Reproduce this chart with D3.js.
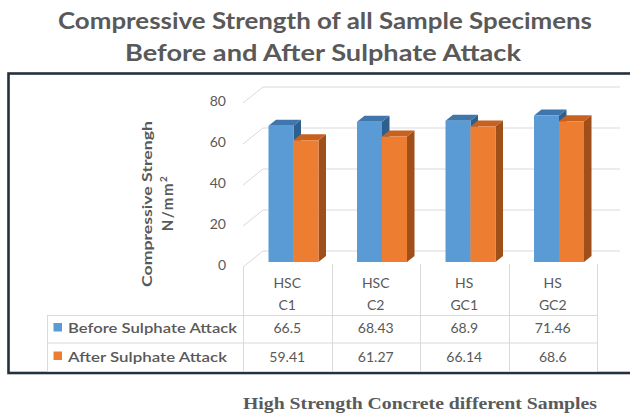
<!DOCTYPE html>
<html>
<head>
<meta charset="utf-8">
<script src="https://cdn.jsdelivr.net/npm/d3@7/dist/d3.min.js"></script>
<style>
  html, body { margin: 0; padding: 0; background: #fff; }
  svg { display: block; font-family: Lato, "Open Sans", sans-serif; }
</style>
</head>
<body>
<svg id="chart" width="630" height="417"></svg>
<script>
// Sample groups (two-line labels), series and values in N/mm²
const categories = ["HSC\nC1", "HSC\nC2", "HS\nGC1", "HS\nGC2"];
const seriesNames = ["Before Sulphate Attack", "After Sulphate Attack"];
const beforeValues = [66.5, 68.43, 68.9, 71.46];
const afterValues = [59.41, 61.27, 66.14, 68.6];
const yTicks = [0, 20, 40, 60, 80];
const valueLabels = [
  ["66.5", "68.43", "68.9", "71.46"],
  ["59.41", "61.27", "66.14", "68.6"]
];

const seriesValues = [beforeValues, afterValues];
const faceColors = [
  { front: "#5b9bd5", top: "#3f77ac", side: "#2f5f8d" },
  { front: "#ed7d31", top: "#c8611e", side: "#9f4f19" }
];

const svg = d3.select("#chart");
const grey = "#595959";

// Oblique projection: back wall at depth 0, front edge at depth 1
const DX = -20, DY = 16;
const xb = d3.scaleBand().domain(categories).range([263, 617]);
const xs = d3.scaleBand().domain(seriesNames).range([0, xb.bandwidth()]).paddingOuter(0.77);
const y = d3.scaleLinear().domain([0, 80]).range([251, 87]);
const proj = (x, v, d) => [x + DX * d, y(v) + DY * d];
const D0 = 0.3125, D1 = 0.6875;

// Outer frame
svg.append("rect")
  .attr("x", 8.5).attr("y", 73.5).attr("width", 640).attr("height", 299.5)
  .attr("fill", "none").attr("stroke", "#26303d").attr("stroke-width", 2.6);

// Title
const title = svg.append("g").attr("fill", grey).attr("font-weight", 700).attr("font-size", 22)
  .attr("text-anchor", "middle");
title.append("text").attr("x", 325).attr("y", 29)
  .attr("textLength", 534).attr("lengthAdjust", "spacingAndGlyphs")
  .text("Compressive Strength of all Sample Specimens");
title.append("text").attr("x", 323).attr("y", 61)
  .attr("textLength", 396).attr("lengthAdjust", "spacingAndGlyphs")
  .text("Before and After Sulphate Attack");

// Gridlines: side-wall diagonal plus back-wall horizontal
const gridX0 = xb.range()[0], gridX1 = 620;
svg.append("g").selectAll("path").data(yTicks).join("path")
  .attr("fill", "none").attr("stroke", "#d9d9d9").attr("stroke-width", 1)
  .attr("d", t => d3.line()([proj(gridX0, t, 1), proj(gridX0, t, 0), [gridX1, y(t)]]));

// Value axis labels on the front edge
const yFront = y.copy().range(y.range().map(r => r + DY));
const axis = svg.append("g").attr("transform", `translate(${gridX0 + DX},-2)`)
  .call(d3.axisLeft(yFront).tickValues(yTicks).tickSize(0).tickPadding(17));
axis.select(".domain").remove();
axis.selectAll("text").style("font-family", "Lato, sans-serif").attr("font-size", 14).attr("fill", grey);

// Value axis title
const yTitle = svg.append("g").attr("fill", grey).attr("font-weight", 700).attr("font-size", 14)
  .attr("text-anchor", "middle");
yTitle.append("text").attr("transform", "translate(152,204) rotate(-90)")
  .attr("textLength", 166).attr("lengthAdjust", "spacingAndGlyphs")
  .text("Compressive Strengh");
const nmm = yTitle.append("text").attr("transform", "translate(173,203) rotate(-90)")
  .attr("font-size", 15).attr("letter-spacing", 1.5);
nmm.append("tspan").text("N/mm");
nmm.append("tspan").attr("font-size", 10).attr("dy", -6).text("2");

// 3D columns
const barData = [];
categories.forEach((c, ci) => {
  seriesNames.forEach((s, si) => {
    barData.push({ c, s, si, v: seriesValues[si][ci] });
  });
});
const poly = pts => d3.line()(pts) + "Z";
const bars = svg.append("g").selectAll("g").data(barData).join("g");
bars.append("path")
  .attr("fill", d => faceColors[d.si].side)
  .attr("d", d => {
    const x = xb(d.c) + xs(d.s) + xs.bandwidth();
    return poly([proj(x, 0, D1), proj(x, d.v, D1), proj(x, d.v, D0), proj(x, 0, D0)]);
  });
bars.append("path")
  .attr("fill", d => faceColors[d.si].top)
  .attr("d", d => {
    const x0 = xb(d.c) + xs(d.s), x1 = x0 + xs.bandwidth();
    return poly([proj(x0, d.v, D1), proj(x1, d.v, D1), proj(x1, d.v, D0), proj(x0, d.v, D0)]);
  });
bars.append("path")
  .attr("fill", d => faceColors[d.si].front)
  .attr("d", d => {
    const x0 = xb(d.c) + xs(d.s), x1 = x0 + xs.bandwidth();
    return poly([proj(x0, 0, D1), proj(x1, 0, D1), proj(x1, d.v, D1), proj(x0, d.v, D1)]);
  });

// Data table
const colEdges = categories.map(c => xb(c) + DX).concat([xb.range()[1] + DX]);
const tableLeft = 47.5, rowLines = [315, 342.5, 371];
const table = svg.append("g").attr("stroke", "#d9d9d9").attr("stroke-width", 1);
table.selectAll("line.v").data(colEdges).join("line")
  .attr("x1", d => Math.round(d) + 0.5).attr("x2", d => Math.round(d) + 0.5)
  .attr("y1", (d, i) => i === 0 ? y(0) + DY : 264).attr("y2", rowLines[2]);
table.append("line").attr("x1", tableLeft).attr("x2", tableLeft).attr("y1", rowLines[0]).attr("y2", rowLines[2]);
table.selectAll("line.h").data(rowLines).join("line")
  .attr("x1", tableLeft).attr("x2", colEdges[colEdges.length - 1])
  .attr("y1", d => d + 0.5).attr("y2", d => d + 0.5);

const colCenter = c => xb(c) + DX + xb.bandwidth() / 2;
const catText = svg.append("g").attr("fill", grey).attr("font-size", 14).attr("text-anchor", "middle");
categories.forEach(c => {
  c.split("\n").forEach((line, li) => {
    catText.append("text").attr("x", colCenter(c)).attr("y", 288 + li * 22).text(line);
  });
});

const rowBase = [333, 361.5];
seriesNames.forEach((s, si) => {
  svg.append("rect").attr("x", 53.5).attr("y", rowBase[si] - 10).attr("width", 8.5).attr("height", 8.5)
    .attr("fill", faceColors[si].front);
  svg.append("text").attr("x", 68).attr("y", rowBase[si])
    .attr("fill", grey).attr("font-size", 14).attr("font-weight", 600)
    .attr("textLength", si === 0 ? 169 : 159).attr("lengthAdjust", "spacingAndGlyphs")
    .text(s);
  categories.forEach((c, ci) => {
    svg.append("text").attr("x", colCenter(c)).attr("y", rowBase[si])
      .attr("fill", grey).attr("font-size", 14).attr("text-anchor", "middle")
      .text(valueLabels[si][ci]);
  });
});

// Category axis title below the frame
svg.append("text").attr("x", 243).attr("y", 409)
  .style("font-family", "'Liberation Serif', 'DejaVu Serif', serif")
  .attr("font-weight", 700).attr("font-size", 16).attr("fill", "#5a5a5a")
  .attr("textLength", 354).attr("lengthAdjust", "spacingAndGlyphs")
  .text("High Strength Concrete different Samples");
</script>
</body>
</html>
